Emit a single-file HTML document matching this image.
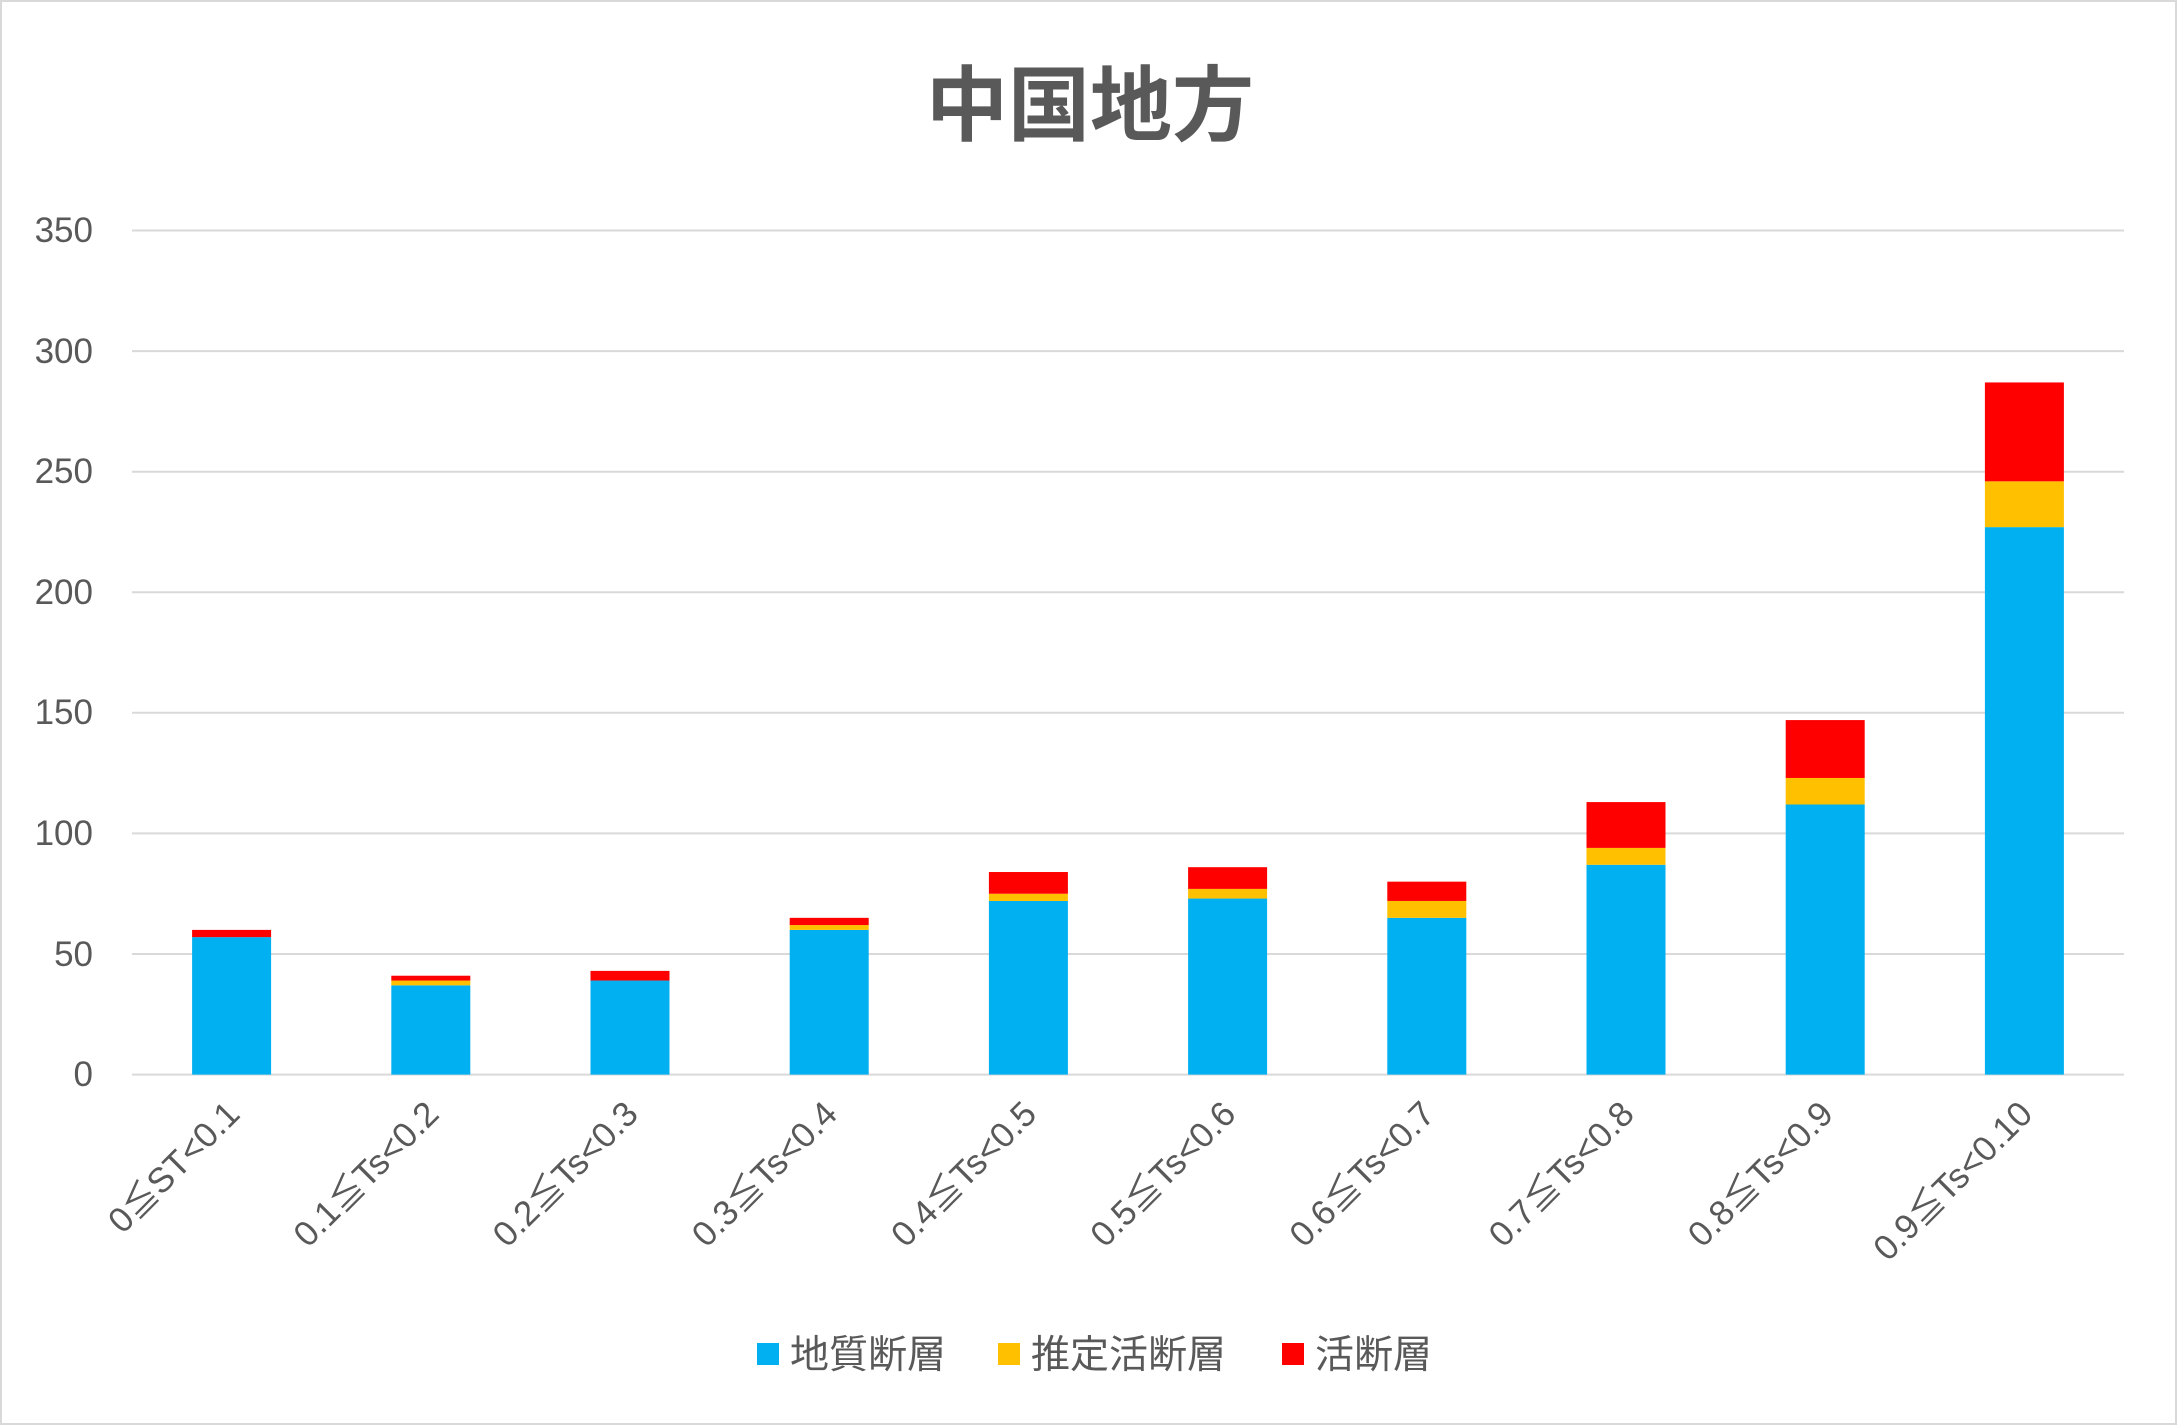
<!DOCTYPE html>
<html><head><meta charset="utf-8"><style>
html,body{margin:0;padding:0;background:#fff;}
svg{display:block;}
text{font-family:"Liberation Sans","Noto Sans CJK JP",sans-serif;fill:#595959;}
</style></head><body>
<svg width="2177" height="1425" viewBox="0 0 2177 1425" xmlns="http://www.w3.org/2000/svg">
<rect x="1" y="1" width="2175" height="1423" fill="#fff" stroke="#d9d9d9" stroke-width="2"/>
<text x="1090" y="134" text-anchor="middle" font-size="82" font-weight="bold" style="font-family:'Noto Sans CJK JP',sans-serif">中国地方</text>
<g stroke="#d9d9d9" stroke-width="2">
<line x1="132" x2="2124" y1="230.5" y2="230.5"/>
<line x1="132" x2="2124" y1="351.1" y2="351.1"/>
<line x1="132" x2="2124" y1="471.7" y2="471.7"/>
<line x1="132" x2="2124" y1="592.3" y2="592.3"/>
<line x1="132" x2="2124" y1="712.8" y2="712.8"/>
<line x1="132" x2="2124" y1="833.4" y2="833.4"/>
<line x1="132" x2="2124" y1="954" y2="954"/>
<line x1="132" x2="2124" y1="1074.6" y2="1074.6"/>
</g>
<g font-size="35" text-anchor="end">
<text x="93" y="242">350</text>
<text x="93" y="363">300</text>
<text x="93" y="483">250</text>
<text x="93" y="604">200</text>
<text x="93" y="724">150</text>
<text x="93" y="845">100</text>
<text x="93" y="966">50</text>
<text x="93" y="1086">0</text>
</g>
<g id="bars"></g>
<g id="xl" font-size="35" text-anchor="end"></g>
<g font-size="39">
<rect x="757" y="1343" width="22" height="22" fill="#00b0f0"/>
<text x="790" y="1368">地質断層</text>
<rect x="998" y="1343" width="22" height="22" fill="#ffc000"/>
<text x="1031" y="1368">推定活断層</text>
<rect x="1282" y="1343" width="22" height="22" fill="#ff0000"/>
<text x="1315" y="1368">活断層</text>
</g>
<script>
var s1=[57,37,39,60,72,73,65,87,112,227],s2=[0,2,0,2,3,4,7,7,11,19],t=[60,41,43,65,84,86,80,113,147,287];
var lab=["0≦ST<0.1","0.1≦Ts<0.2","0.2≦Ts<0.3","0.3≦Ts<0.4","0.4≦Ts<0.5","0.5≦Ts<0.6","0.6≦Ts<0.7","0.7≦Ts<0.8","0.8≦Ts<0.9","0.9≦Ts<0.10"];
var y0=1074.6,k=2.4117,ns="http://www.w3.org/2000/svg",b=document.getElementById("bars"),xl=document.getElementById("xl");
function r(x,ya,yb,c){var e=document.createElementNS(ns,"rect");e.setAttribute("x",x);e.setAttribute("y",y0-yb*k);e.setAttribute("width",79);e.setAttribute("height",(yb-ya)*k);e.setAttribute("fill",c);b.appendChild(e);}
for(var i=0;i<10;i++){var cx=132+199.2*(i+0.5),x=cx-39.5;
r(x,0,s1[i],"#00b0f0");r(x,s1[i],s1[i]+s2[i],"#ffc000");r(x,s1[i]+s2[i],t[i],"#ff0000");
var e=document.createElementNS(ns,"text");var tx=cx+10,ty=1116;e.setAttribute("x",tx);e.setAttribute("y",ty);e.setAttribute("transform","rotate(-45 "+tx+" "+ty+")");e.textContent=lab[i];xl.appendChild(e);}
</script>
</svg>
</body></html>
